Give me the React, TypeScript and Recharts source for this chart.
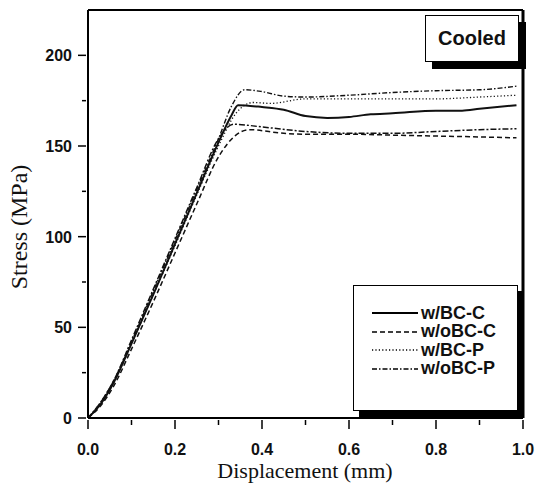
import React from "react";
import {
  LineChart,
  Line,
  XAxis,
  YAxis,
  ReferenceLine,
} from "recharts";

// (displacement mm, stress MPa)
const bcCX = [0, 0.03, 0.06, 0.1, 0.15, 0.2, 0.25, 0.3, 0.33, 0.345, 0.4, 0.45, 0.5, 0.55, 0.6, 0.65, 0.7, 0.8, 0.86, 0.9, 0.985];
const bcCY = [0, 8, 20, 41, 68, 96, 124, 152, 167, 172.5, 171.5, 170, 166.5, 165.5, 166, 167.5, 168, 169.5, 169.5, 170.5, 172.5];

const obcCX = [0, 0.03, 0.06, 0.1, 0.15, 0.2, 0.25, 0.3, 0.34, 0.37, 0.45, 0.5, 0.6, 0.7, 0.8, 0.9, 0.985];
const obcCY = [0, 7, 18, 38, 64, 91, 118, 144, 156, 159, 157, 156.5, 156.5, 156, 155.5, 155, 154.5];

// second unlabelled specimen trace visible in the lower group
const obcC2X = [0, 0.03, 0.06, 0.1, 0.15, 0.2, 0.25, 0.3, 0.335, 0.4, 0.5, 0.6, 0.7, 0.8, 0.9, 0.985];
const obcC2Y = [0, 9, 21, 43, 71, 99, 127, 154, 162, 160.5, 158, 157, 157, 158, 159, 159.5];

const bcPX = [0, 0.03, 0.06, 0.1, 0.15, 0.2, 0.25, 0.3, 0.34, 0.38, 0.42, 0.5, 0.6, 0.7, 0.8, 0.9, 0.985];
const bcPY = [0, 8, 20, 41, 68, 95, 123, 150, 168, 174, 173.5, 176, 176, 176, 176, 177, 178];

const obcPX = [0, 0.03, 0.06, 0.1, 0.15, 0.2, 0.25, 0.3, 0.33, 0.36, 0.4, 0.45, 0.5, 0.6, 0.7, 0.8, 0.9, 0.985];
const obcPY = [0, 9, 21, 42, 70, 98, 126, 154, 172, 181, 180, 177.5, 177, 178, 179.5, 180.5, 181, 183];

const xTicks = [0, 0.1, 0.2, 0.3, 0.4, 0.5, 0.6, 0.7, 0.8, 0.9, 1.0];
const yTicks = [0, 25, 50, 75, 100, 125, 150, 175, 200];

const series = [
  { name: "w/BC-C", xs: bcCX, ys: bcCY, dash: undefined, width: 2 },
  { name: "w/oBC-C", xs: obcCX, ys: obcCY, dash: "5 3", width: 1.5 },
  { name: "w/BC-P", xs: bcPX, ys: bcPY, dash: "1.2 2.2", width: 1.3 },
  { name: "w/oBC-P", xs: obcPX, ys: obcPY, dash: "5 2 1.5 2", width: 1.4 },
];

const toPoints = (xs: number[], ys: number[]) => xs.map((x, i) => ({ x, y: ys[i] }));

const tickFont = { fontFamily: "Liberation Sans, Arial, sans-serif", fontWeight: 700, fontSize: 16 };
const serif = "Liberation Serif, Times New Roman, serif";

const YTick = (props: any) => {
  const { x, y, payload } = props;
  const major = payload.value % 50 === 0;
  return (
    <g>
      <line x1={x - (major ? 8 : 4)} x2={x} y1={y} y2={y} stroke="#000" strokeWidth={1.5} />
      {major && (
        <text x={x - 14} y={y} dy={6} textAnchor="end" fill="#111" {...tickFont}>
          {payload.value}
        </text>
      )}
    </g>
  );
};

const XTick = (props: any) => {
  const { x, y, payload, index } = props;
  const major = index % 2 === 0;
  return (
    <g>
      <line x1={x} x2={x} y1={y} y2={y + (major ? 9 : 5)} stroke="#000" strokeWidth={1.5} />
      {major && (
        <text x={x} y={y + 35} textAnchor="middle" fill="#111" {...tickFont}>
          {payload.value.toFixed(1)}
        </text>
      )}
    </g>
  );
};

const LegendBox = () => (
  <div
    style={{
      position: "absolute",
      left: 353,
      top: 285,
      width: 165,
      height: 126,
      border: "1.5px solid #000",
      boxShadow: "6px 6px 0 #000",
      background: "#fff",
      boxSizing: "border-box",
      paddingTop: 18,
    }}
  >
    {series.map((s) => (
      <div key={s.name} style={{ display: "flex", alignItems: "center", height: 18.5, marginLeft: 18 }}>
        <svg width={46} height={10}>
          <line x1={0} x2={46} y1={5} y2={5} stroke="#000" strokeWidth={s.width} strokeDasharray={s.dash} />
        </svg>
        <span style={{ ...tickFont, fontSize: 18, marginLeft: 3, color: "#111" }}>{s.name}</span>
      </div>
    ))}
  </div>
);

export default function App() {
  return (
    <div style={{ position: "absolute", left: 0, top: 0, width: 539, height: 487, background: "#fff" }}>
      <LineChart width={539} height={487} margin={{ top: 10, right: 16, bottom: 0, left: 0 }}>
        <XAxis
          dataKey="x"
          type="number"
          domain={[0, 1]}
          ticks={xTicks}
          height={69}
          tickSize={0}
          tickLine={false}
          tick={<XTick />}
          axisLine={{ stroke: "#000", strokeWidth: 2 }}
          allowDuplicatedCategory={false}
          label={() => (
            <text x={305} y={478} textAnchor="middle" fill="#111" fontFamily={serif} fontSize={22}>
              Displacement (mm)
            </text>
          )}
        />
        <YAxis
          type="number"
          domain={[0, 225]}
          ticks={yTicks}
          width={88}
          tickSize={0}
          tickLine={false}
          tick={<YTick />}
          axisLine={{ stroke: "#000", strokeWidth: 2 }}
          label={() => (
            <text x={27} y={227} transform="rotate(-90 27 227)" textAnchor="middle" fill="#111" fontFamily={serif} fontSize={24}>
              Stress (MPa)
            </text>
          )}
        />
        <ReferenceLine x={1} stroke="#000" strokeWidth={3} />
        <ReferenceLine y={225} stroke="#000" strokeWidth={2} />
        {series.map((s) => (
          <Line
            key={s.name}
            data={toPoints(s.xs, s.ys)}
            dataKey="y"
            name={s.name}
            type="monotone"
            stroke="#111"
            strokeWidth={s.width}
            strokeDasharray={s.dash}
            dot={false}
            isAnimationActive={false}
          />
        ))}
        <Line
          data={toPoints(obcC2X, obcC2Y)}
          dataKey="y"
          name="w/oBC-C (2)"
          legendType="none"
          type="monotone"
          stroke="#111"
          strokeWidth={1.5}
          strokeDasharray="6 2 2 2"
          dot={false}
          isAnimationActive={false}
        />
      </LineChart>
      <LegendBox />
      <div
        style={{
          position: "absolute",
          left: 425,
          top: 15,
          width: 94,
          height: 47,
          border: "1.5px solid #000",
          boxShadow: "7px 7px 0 #000",
          background: "#fff",
          boxSizing: "border-box",
          display: "flex",
          alignItems: "center",
          justifyContent: "center",
          ...tickFont,
          fontSize: 20,
          color: "#111",
        }}
      >
        Cooled
      </div>
    </div>
  );
}
